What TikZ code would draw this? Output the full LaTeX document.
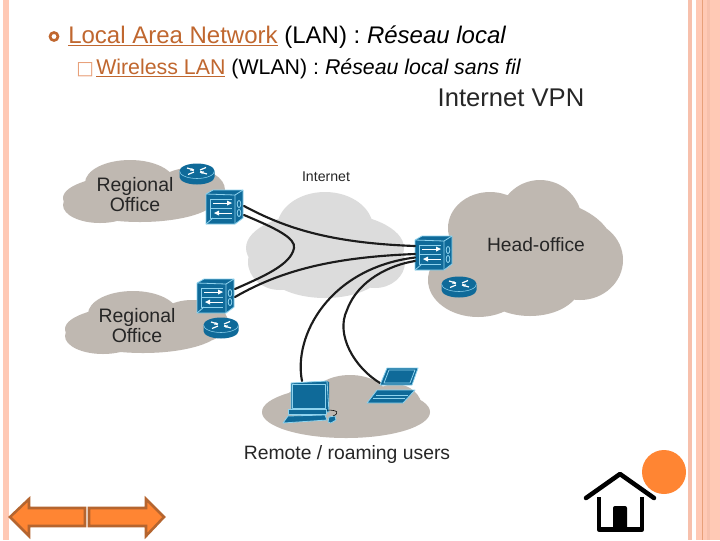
\documentclass[tikz,border=0pt]{standalone}
\usepackage{fontspec}
\setmainfont{Liberation Sans}
\newfontfamily\symfont{DejaVu Sans}
\definecolor{stripe}{HTML}{FFC9B5}
\definecolor{stripeb}{HTML}{F7C0AC}
\definecolor{stripec}{HTML}{E8A07A}
\definecolor{linkc}{HTML}{C0672F}
\definecolor{orangef}{HTML}{FF8533}
\definecolor{oranged}{HTML}{B5652F}
\definecolor{cloudd}{HTML}{BFB8B1}
\definecolor{cloudl}{HTML}{DCDCDC}
\definecolor{cisco}{HTML}{0F6A99}
\definecolor{ciscol}{HTML}{8FD3EE}
\definecolor{wire}{HTML}{1C1C1C}
\tikzset{
  x=0.75pt,y=-0.75pt,
  wireline/.style={draw=wire,line width=1.6pt,line cap=round},
  lbl/.style={inner sep=0pt,text=black!85,align=center},
  edge line/.style={draw=ciscol,line width=0.6pt,line join=round},
  navarrow/.style={fill=orangef,draw=oranged,line width=1.9pt,line join=miter},
  firewall/.pic={
    \fill[cisco] (0,4) -- (7,0) -- (37,0) -- (37,28) -- (29,34) -- (0,34) -- cycle;
    \draw[edge line] (0,4) -- (7,0) -- (37,0) -- (37,28) -- (29,34) -- (0,34) -- cycle;
    \draw[edge line] (0,4) -- (29,5) -- (37,0) (29,5) -- (29,34);
    \draw[edge line] (4,9) -- (26,9) (4,9) -- (4,28) -- (26,28) (4,18) -- (26,18);
    \draw[white,line width=0.7pt] (7,13) -- (24,13) (10,23) -- (26,23);
    \fill[white] (26,13) -- (21,10.5) -- (21,15.5) -- cycle;
    \fill[white] (8,23) -- (13,20.5) -- (13,25.5) -- cycle;
    \draw[edge line] (0,34) -- (7,28);
    \draw[edge line] (33,14) ellipse [x radius=1.8,y radius=3.6];
    \draw[edge line] (33,23) ellipse [x radius=1.8,y radius=3.6];
  },
  router/.pic={
    \fill[cisco] (-17.5,0) -- (-17.5,6) arc [start angle=180,end angle=360,x radius=17.5,y radius=-7.5] -- (17.5,0) -- cycle;
    \fill[cisco] (0,0) ellipse [x radius=17.5,y radius=7.5];
    \draw[ciscol,line width=0.4pt] (-17.5,0) arc [start angle=180,end angle=360,x radius=17.5,y radius=-7.5];
    \draw[white,line width=0.9pt] (-10,-3) -- (-3,-1) (10,3) -- (3,1) (9,-3.5) -- (3,-1) (-9,3.5) -- (-3,1);
    \fill[white] (-3,0) -- (-7,-0.5) -- (-5,-3) -- cycle;
    \fill[white] (3,0) -- (7,0.5) -- (5,3) -- cycle;
  },
}
\begin{document}
\begin{tikzpicture}
\useasboundingbox (0,0) rectangle (720,540);
\fill[white] (0,0) rectangle (720,540);
% page stripes
\fill[stripe] (3,0) rectangle (9,540);
\fill[stripeb] (688,0) rectangle (692,540);
\fill[stripe] (696,0) rectangle (720,540);
\fill[stripec] (702,0) rectangle (703.3,540);
\fill[stripeb] (707,0) rectangle (710,540);

% heading text
\draw[linkc,line width=2pt] (54,36.5) circle [radius=4];
\node[anchor=base west,inner sep=0pt,font=\fontsize{18}{22}\selectfont] (title) at (68,43.5)
  {\textcolor{linkc}{\underline{Local Area Network}} (LAN) : \textit{Réseau local}};
\node[anchor=base west,inner sep=0pt,text=stripec,font=\symfont\fontsize{14}{16}\selectfont] (sqb) at (76,74.5) {□};
\node[anchor=base west,inner sep=0pt,font=\fontsize{16}{20}\selectfont] (sub) at (96,74.5)
  {\textcolor{linkc}{\underline{Wireless LAN}} (WLAN) : \textit{Réseau local sans fil}};

% clouds
\fill[cloudl] (325,248) ellipse [x radius=79,y radius=36]
  (325,228) ellipse [x radius=48,y radius=36]
  (280,262) ellipse [x radius=32,y radius=28]
  (325,268) ellipse [x radius=60,y radius=30]
  (375,262) ellipse [x radius=30,y radius=26];
\fill[cloudd] (140,198) ellipse [x radius=77,y radius=24]
  (130,183) ellipse [x radius=45,y radius=23]
  (190,190) ellipse [x radius=35,y radius=22]
  (100,205) ellipse [x radius=37,y radius=18];
\fill[cloudd] (143,329) ellipse [x radius=78,y radius=24]
  (133,314) ellipse [x radius=45,y radius=23]
  (192,322) ellipse [x radius=36,y radius=22]
  (103,336) ellipse [x radius=38,y radius=18];
\fill[cloudd] (530,250) ellipse [x radius=84,y radius=52]
  (490,228) ellipse [x radius=42,y radius=36]
  (540,222) ellipse [x radius=42,y radius=42]
  (580,260) ellipse [x radius=43,y radius=40]
  (478,280) ellipse [x radius=50,y radius=37]
  (530,285) ellipse [x radius=50,y radius=31];
\fill[cloudd] (346,412) ellipse [x radius=84,y radius=26]
  (350,398) ellipse [x radius=38,y radius=23]
  (305,410) ellipse [x radius=26,y radius=22]
  (395,408) ellipse [x radius=27,y radius=24];

% devices
\pic (rt1) at (197,171) {router};
\pic (fw1) at (206,190) {firewall};
\pic (fw2) at (197,279) {firewall};
\pic (rt2) at (221,325) {router};
\pic (fw3) at (415,236) {firewall};
\pic (rt3) at (459,284) {router};

% named ends of the links
\coordinate (a1) at (244,206);
\coordinate (a2) at (244,215);
\coordinate (b1) at (235,289);
\coordinate (b2) at (235,297);
\coordinate (c1) at (415,246);
\coordinate (c2) at (415,254);
\coordinate (c3) at (415,257.5);
\coordinate (c4) at (415,261);
\coordinate (pc) at (302,381);
\coordinate (lap) at (380,383);

% links
\draw[wireline] (a1) .. controls (285,228) and (330,243) .. (c1);
\draw[wireline] (a2) .. controls (275,228) and (296,238) .. (294,248) .. controls (291,265) and (262,277) .. (b1);
\draw[wireline] (b2) .. controls (285,268) and (340,257) .. (c2);
\draw[wireline] (pc) .. controls (293,335) and (330,268) .. (c3);
\draw[wireline] (lap) .. controls (355,368) and (335,335) .. (347,310) .. controls (358,280) and (390,265) .. (c4);

% desktop computer
\fill[cisco] (291,383) -- (327,381) -- (329,382) -- (329,412) -- (291,412) -- cycle;
\draw[edge line] (291,383) -- (327,381) -- (329,412) -- (291,412) -- cycle;
\fill[cisco] (294,386) rectangle (323,406);
\draw[edge line] (292,384) rectangle (325,408);
\fill[cisco] (288,409) rectangle (326,414);
\draw[edge line] (288,409) rectangle (326,414);
\fill[cisco] (288,416) -- (325,415) -- (327,420) -- (283,423) -- cycle;
\draw[edge line] (288,416) -- (325,415) -- (327,420) -- (283,423) -- cycle;
\fill[cisco] (329,417) -- (335,416) -- (336,420) -- (331,423) -- (328,422) -- cycle;
\draw[edge line] (329,417) -- (335,416) -- (336,420) -- (331,423) -- (328,422) -- cycle;
\draw[black,line width=0.4pt] (327,410) .. controls (338,410) and (340,413) .. (333,416);

% laptop
\fill[cisco] (380,385) -- (387,368) -- (418,368) -- (412,385) -- cycle;
\draw[edge line] (380,385) -- (387,368) -- (418,368) -- (412,385) -- cycle;
\draw[edge line] (384,383) -- (389,370) -- (415,370) -- (410,383) -- cycle;
\fill[cisco] (367,403) -- (377,390) -- (415,390) -- (403,403) -- cycle;
\draw[edge line] (367,403) -- (377,390) -- (415,390) -- (403,403) -- cycle;
\draw[ciscol,line width=0.3pt] (376,395) -- (408,395) (373,398) -- (405,398);

% diagram labels
\node[lbl,font=\fontsize{14.6}{13.5}\selectfont] (reg1) at (135,194.5) {Regional\\Office};
\node[lbl,font=\fontsize{14.6}{13.5}\selectfont] (reg2) at (137,325.5) {Regional\\Office};
\node[lbl,font=\fontsize{10.6}{12}\selectfont] (inet) at (326,177) {Internet};
\node[lbl,font=\fontsize{14.4}{16}\selectfont] (head) at (536,245) {Head-office};
\node[lbl,font=\fontsize{14.5}{16}\selectfont] (users) at (347,454) {Remote / roaming users};
\node[lbl,font=\fontsize{19.2}{22}\selectfont] (vpn) at (511,98) {Internet VPN};

% navigation arrows
\draw[navarrow] (10,517) -- (29,499) -- (29,508) -- (85,508) -- (85,526) -- (29,526) -- (29,536) -- cycle;
\draw[navarrow] (164,517) -- (146,499) -- (146,508) -- (89,508) -- (89,526) -- (146,526) -- (146,536) -- cycle;

% home icon and disc
\fill[orangef] (664,472) circle [radius=22];
\fill[white] (620,473) -- (654,498) -- (643,531) -- (598,531) -- (585,498) -- cycle;
\draw[black,line width=3.4pt,line cap=round,line join=round] (586,498) -- (620,474) -- (654,498);
\draw[black,line width=3.6pt,line join=round] (599,497) -- (599,529.5) -- (642,529.5) -- (642,497);
\fill[black,rounded corners=1.5pt] (613,506) rectangle (627,531);
\end{tikzpicture}
\end{document}
